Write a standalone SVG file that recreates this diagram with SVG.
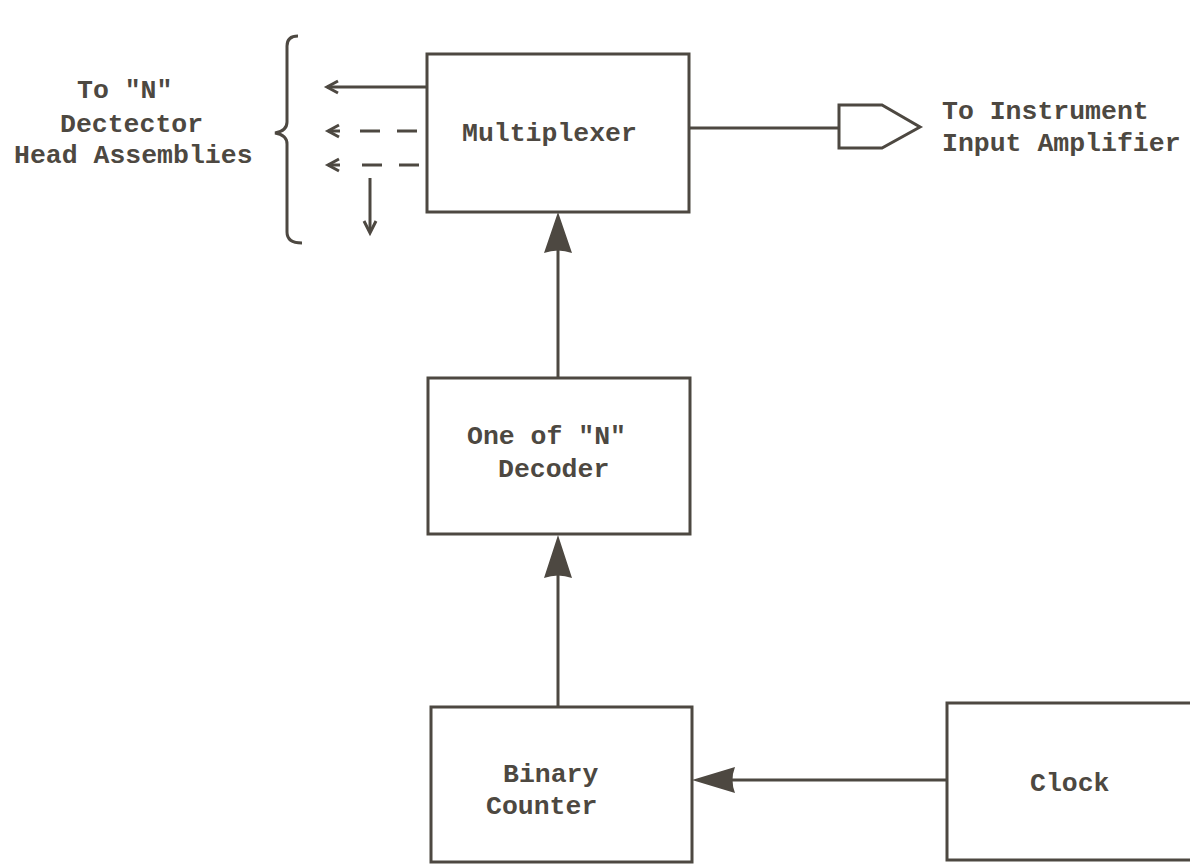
<svg xmlns="http://www.w3.org/2000/svg" width="1190" height="864" viewBox="0 0 1190 864">
<style>
.box{fill:#fff;stroke:#4d4841;stroke-width:3}
.ln{fill:none;stroke:#4d4841;stroke-width:3}
.dash{fill:none;stroke:#4d4841;stroke-width:3;stroke-dasharray:20 17}
.t{font-family:"Liberation Mono","Courier New",monospace;font-size:26.5px;font-weight:bold;fill:#4d4841}
.head{fill:#4d4841}
</style>
<rect width="1190" height="864" fill="#fff"/>
<g id="connectors">
<line class="ln" x1="558" y1="378" x2="558" y2="240"/>
<path class="head" d="M558 212 L572 253 Q558 248 544 253 Z"/>
<line class="ln" x1="558" y1="707" x2="558" y2="565"/>
<path class="head" d="M558 535 L572 578 Q558 573 544 578 Z"/>
<line class="ln" x1="947" y1="780" x2="720" y2="780"/>
<path class="head" d="M692 780 L735 767 Q730 780 735 793 Z"/>
<line class="ln" x1="689" y1="128" x2="839" y2="128"/>
<line class="ln" x1="427" y1="87" x2="327" y2="87"/>
<path class="ln" d="M338 81 L327 87 L338 93"/>
<line class="ln" x1="328" y1="131" x2="340" y2="131"/>
<path class="ln" d="M339 125 L328 131 L339 137"/>
<line class="dash" x1="360" y1="131" x2="430" y2="131"/>
<line class="ln" x1="328" y1="165" x2="340" y2="165"/>
<path class="ln" d="M339 159 L328 165 L339 171"/>
<line class="dash" x1="362" y1="165" x2="430" y2="165"/>
<line class="ln" x1="370" y1="178" x2="370" y2="232"/>
<path class="ln" d="M364 221 L370 233 L376 221"/>
</g>
<g id="brace">
<path class="ln" d="M298 36 Q287 36 287 46 L287 122 Q287 131 275 133 Q287 135 287 144 L287 232 Q287 243 302 243"/>
<text class="t" x="77" y="98">To "N"</text>
<text class="t" x="60" y="132">Dectector</text>
<text class="t" x="14" y="163">Head Assemblies</text>
</g>
<g id="multiplexer">
<rect class="box" x="427" y="54" width="262" height="158"/>
<text class="t" x="462" y="141">Multiplexer</text>
</g>
<g id="output">
<path class="box" d="M839 105 L882 105 L920 127 L882 148 L839 148 Z"/>
<text class="t" x="942" y="119">To Instrument</text>
<text class="t" x="942" y="151">Input Amplifier</text>
</g>
<g id="decoder">
<rect class="box" x="428" y="378" width="262" height="156"/>
<text class="t" x="467" y="444">One of "N"</text>
<text class="t" x="498" y="477">Decoder</text>
</g>
<g id="counter">
<rect class="box" x="431" y="707" width="261" height="155"/>
<text class="t" x="503" y="782">Binary</text>
<text class="t" x="486" y="814">Counter</text>
</g>
<g id="clock">
<rect class="box" x="947" y="703" width="260" height="157"/>
<text class="t" x="1030" y="791">Clock</text>
</g>
</svg>
